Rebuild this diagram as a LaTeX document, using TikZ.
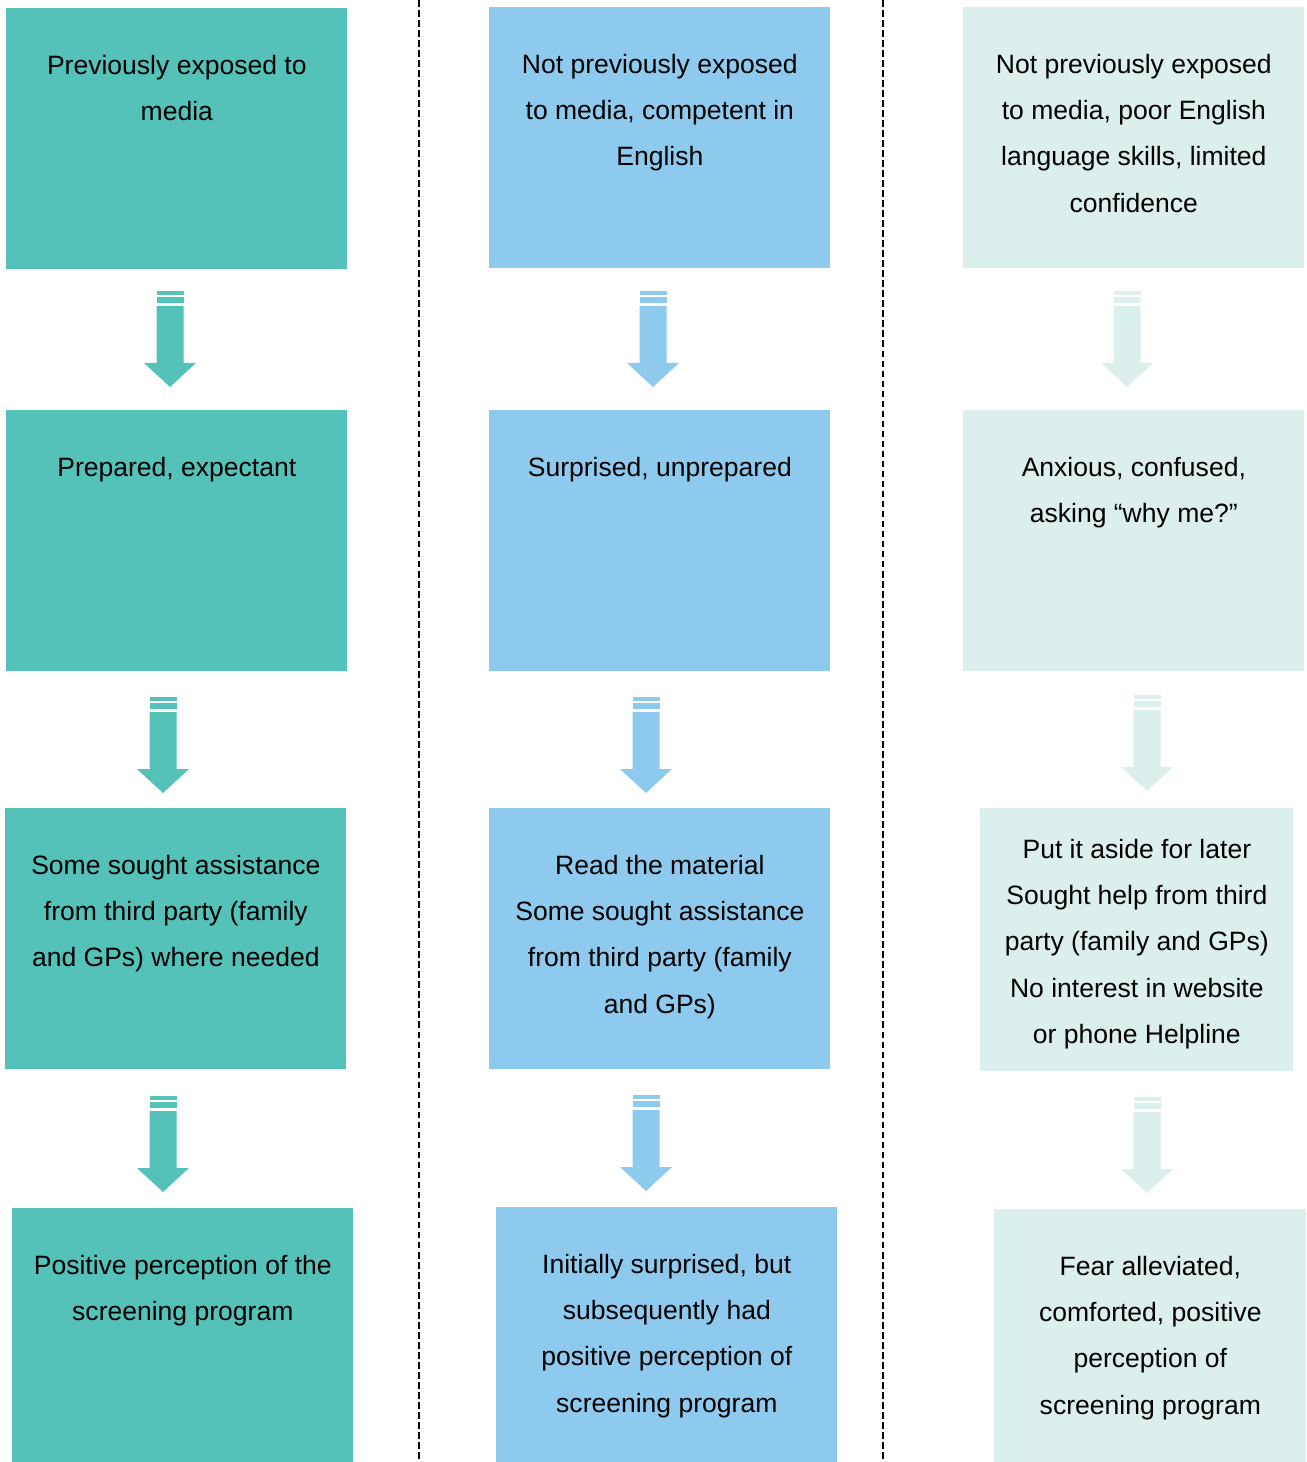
\documentclass[tikz,border=0pt]{standalone}
\usepackage{fontspec}
\setmainfont{Liberation Sans}
\usepackage{tikz}
\usetikzlibrary{positioning}
\definecolor{tealbox}{HTML}{54C2B9}
\definecolor{bluebox}{HTML}{8ECAEE}
\definecolor{palebox}{HTML}{DBEFEC}
\tikzstyle{stage} = [rectangle, inner sep=0, anchor=north west, minimum width=6.82cm, minimum height=5.22cm]
\tikzstyle{stagetext} = [inner sep=0, anchor=north, align=center, font=\fontsize{15.1pt}{26.3pt}\selectfont]
\tikzstyle{divider} = [black, line width=0.9pt, dash pattern=on 3.8pt off 1.9pt]
% block arrow: #1 centre x, #2 top y, #3 colour
\newcommand{\flowarrow}[3]{%
	\fill[#3] (#1-13.5,#2) rectangle (#1+13.5,#2+4);
	\fill[#3] (#1-13.5,#2+6) rectangle (#1+13.5,#2+12);
	\fill[#3] (#1-13.5,#2+15) -- (#1+13.5,#2+15) -- (#1+13.5,#2+72) -- (#1+26,#2+72)
		-- (#1,#2+96) -- (#1-26,#2+72) -- (#1-13.5,#2+72) -- cycle;
}
\begin{document}
\begin{tikzpicture}[x=0.02cm, y=-0.02cm]
				\useasboundingbox (0,0) rectangle (1306,1462);

				% dividers
				\draw[divider] (419,0) -- (419,1462);
				\draw[divider] (883,0) -- (883,1462);

				% exposed to media
				\node (ExpA) [stage, fill=tealbox] at (6, 8) {};
				\node (ExpAText) [stagetext] at ([yshift=-0.94cm]ExpA.north) {Previously exposed to\\media};
				\flowarrow{170}{291}{tealbox}
				\node (ExpB) [stage, fill=tealbox] at (6, 410) {};
				\node (ExpBText) [stagetext] at ([yshift=-0.94cm]ExpB.north) {Prepared, expectant};
				\flowarrow{163}{697}{tealbox}
				\node (ExpC) [stage, fill=tealbox] at (5, 808) {};
				\node (ExpCText) [stagetext] at ([yshift=-0.94cm]ExpC.north) {Some sought assistance\\from third party (family\\and GPs) where needed};
				\flowarrow{163}{1096}{tealbox}
				\node (ExpD) [stage, fill=tealbox] at (12, 1208) {};
				\node (ExpDText) [stagetext] at ([yshift=-0.94cm]ExpD.north) {Positive perception of the\\screening program};

				% competent in English
				\node (EngA) [stage, fill=bluebox] at (489, 7) {};
				\node (EngAText) [stagetext] at ([yshift=-0.94cm]EngA.north) {Not previously exposed\\to media, competent in\\English};
				\flowarrow{653}{291}{bluebox}
				\node (EngB) [stage, fill=bluebox] at (489, 410) {};
				\node (EngBText) [stagetext] at ([yshift=-0.94cm]EngB.north) {Surprised, unprepared};
				\flowarrow{646}{697}{bluebox}
				\node (EngC) [stage, fill=bluebox] at (489, 808) {};
				\node (EngCText) [stagetext] at ([yshift=-0.94cm]EngC.north) {Read the material\\Some sought assistance\\from third party (family\\and GPs)};
				\flowarrow{646}{1095}{bluebox}
				\node (EngD) [stage, fill=bluebox] at (496, 1207) {};
				\node (EngDText) [stagetext] at ([yshift=-0.94cm]EngD.north) {Initially surprised, but\\subsequently had\\positive perception of\\screening program};

				% poor English
				\node (PoorA) [stage, fill=palebox] at (963, 7) {};
				\node (PoorAText) [stagetext] at ([yshift=-0.94cm]PoorA.north) {Not previously exposed\\to media, poor English\\language skills, limited\\confidence};
				\flowarrow{1127}{291}{palebox}
				\node (PoorB) [stage, fill=palebox] at (963, 410) {};
				\node (PoorBText) [stagetext] at ([yshift=-0.94cm]PoorB.north) {Anxious, confused,\\asking “why me?”};
				\flowarrow{1147}{695}{palebox}
				\node (PoorC) [stage, fill=palebox, minimum width=6.26cm, minimum height=5.26cm] at (980, 808) {};
				\node (PoorCText) [stagetext] at ([yshift=-0.62cm]PoorC.north) {Put it aside for later\\Sought help from third\\party (family and GPs)\\No interest in website\\or phone Helpline};
				\flowarrow{1147}{1097}{palebox}
				\node (PoorD) [stage, fill=palebox, minimum width=6.24cm] at (994, 1209) {};
				\node (PoorDText) [stagetext] at ([yshift=-0.94cm]PoorD.north) {Fear alleviated,\\comforted, positive\\perception of\\screening program};
\end{tikzpicture}
\end{document}
